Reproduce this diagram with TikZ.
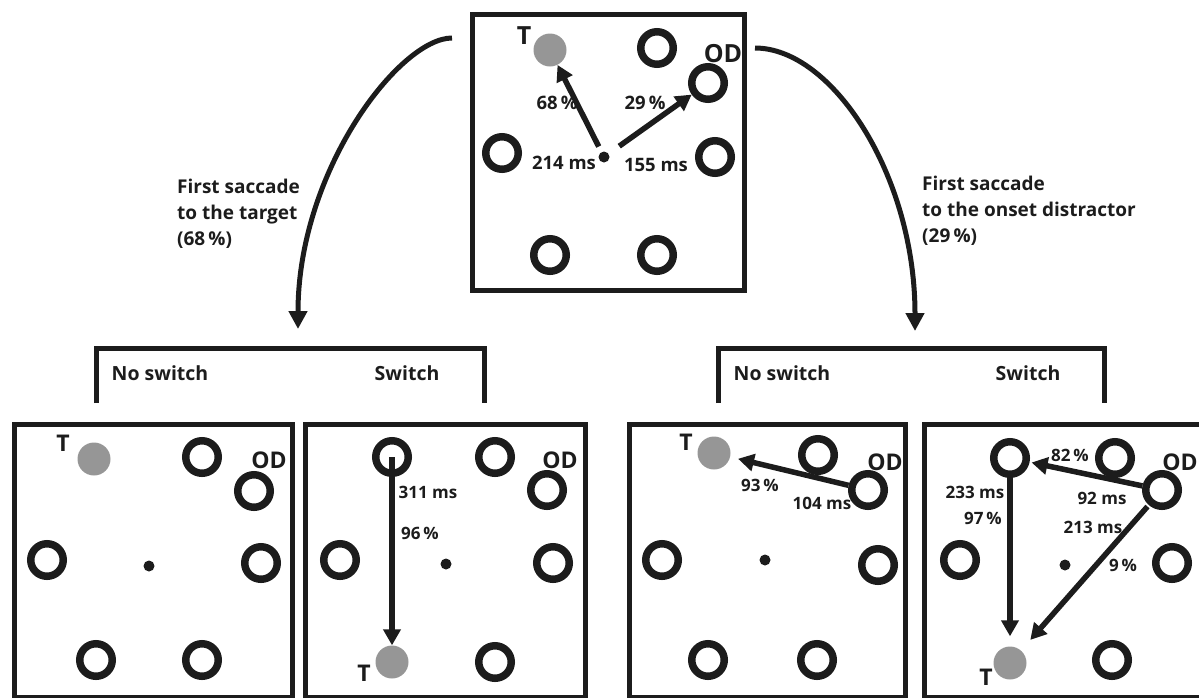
\documentclass[tikz,border=0pt]{standalone}
\usepackage{fontspec}
\setmainfont{Open Sans}
\usetikzlibrary{arrows.meta}
\definecolor{ink}{RGB}{28,28,28}
\definecolor{discgray}{RGB}{150,150,150}

\begin{document}
\begin{tikzpicture}[x=1pt,y=-1pt,
  panel/.style={draw=ink, line width=5pt, inner sep=0pt},
  ring/.style={circle, draw=ink, line width=7.5pt, minimum size=32.5pt, inner sep=0pt},
  target/.style={circle, fill=discgray, minimum size=33pt, inner sep=0pt},
  fixdot/.style={circle, fill=ink, minimum size=11pt, inner sep=0pt},
  sacc/.style={draw=ink, line width=5.5pt, -{Triangle[length=16pt,width=17pt]}},
  branch/.style={draw=ink, line width=5pt, -{Triangle[length=18pt,width=18pt]}},
  bracket/.style={draw=ink, line width=5pt, line join=miter},
  lab/.style={inner sep=0pt, text=ink, font=\bfseries\fontsize{17}{19}\selectfont},
  biglab/.style={inner sep=0pt, text=ink, font=\bfseries\fontsize{18.5}{20}\selectfont},
  tag/.style={inner sep=0pt, text=ink, font=\bfseries\fontsize{23}{26}\selectfont},
  bigtag/.style={inner sep=0pt, text=ink, font=\bfseries\fontsize{25}{28}\selectfont},
  head/.style={inner sep=0pt, text=ink, font=\bfseries\fontsize{19.5}{24}\selectfont},
  note/.style={inner sep=0pt, text=ink, align=left, font=\bfseries\fontsize{19}{26}\selectfont},
]
\useasboundingbox (0,0) rectangle (1199,697);

% ---------- initial display ----------
\node[panel, minimum width=272pt, minimum height=276pt] (top) at (608.5,152.5) {};
\node[target] (t-T) at (550,50) {};
\node[ring] (t-ur) at (657,48) {};
\node[ring] (t-od) at (708,83) {};
\node[ring] (t-l) at (502,153) {};
\node[ring] (t-r) at (715,157) {};
\node[fixdot] (t-fix) at (604,157) {};
\node[ring] (t-bl) at (550,255) {};
\node[ring] (t-br) at (657,255) {};
\node[bigtag] (t-Tlab) at (524,36) {T};
\node[bigtag] (t-odlab) at (723,54) {OD};
\draw[sacc, shorten <=6pt] (t-fix) -- (t-T);
\draw[sacc, shorten <=13pt] (t-fix) -- (t-od);
\node[biglab] (t-p1) at (557,103) {68\,\%};
\node[biglab] (t-p2) at (645,103) {29\,\%};
\node[biglab] (t-m1) at (564,163) {214 ms};
\node[biglab] (t-m2) at (656,165) {155 ms};

% ---------- branches ----------
\coordinate (lstart) at (452,38);
\coordinate (ltip) at (298,329);
\coordinate (rstart) at (755,48);
\coordinate (rtip) at (915,331);
\draw[branch] (lstart) .. controls (400,38) and (298,170) .. (ltip);
\draw[branch] (rstart) .. controls (832,48) and (915,175) .. (rtip);
\node[note, anchor=west] (lnote) at (177,214) {First saccade\\to the target\\(68\,\%)};
\node[note, anchor=west] (rnote) at (922,211) {First saccade\\to the onset distractor\\(29\,\%)};

\draw[bracket] (96,403) -- (96,348) -- (484,348) -- (484,403);
\draw[bracket] (718,403) -- (718,348) -- (1104,348) -- (1104,403);
\node[head] (h1) at (160,373) {No switch};
\node[head] (h2) at (407,373) {Switch};
\node[head] (h3) at (782,373) {No switch};
\node[head] (h4) at (1028,373) {Switch};

% ---------- target first, no switch ----------
\node[panel, minimum width=278pt, minimum height=273pt] (p1) at (153.5,561) {};
\node[target] (p1-T) at (94,459) {};
\node[ring] (p1-ur) at (202,457) {};
\node[ring] (p1-od) at (254,491) {};
\node[ring] (p1-l) at (47,560) {};
\node[ring] (p1-r) at (261,563) {};
\node[fixdot] (p1-fix) at (149,566) {};
\node[ring] (p1-bl) at (96,660) {};
\node[ring] (p1-br) at (202,660) {};
\node[tag] (p1-Tlab) at (63,443) {T};
\node[tag] (p1-odlab) at (269,460) {OD};

% ---------- target first, switch ----------
\node[panel, minimum width=280pt, minimum height=273pt] (p2) at (445.5,561) {};
\node[ring] (p2-ul) at (392,457) {};
\node[ring] (p2-ur) at (495,457) {};
\node[ring] (p2-od) at (547,490) {};
\node[ring] (p2-l) at (340,560) {};
\node[ring] (p2-r) at (553,563) {};
\node[fixdot] (p2-fix) at (446,564) {};
\node[target] (p2-T) at (392,662) {};
\node[ring] (p2-br) at (495,662) {};
\node[tag] (p2-Tlab) at (364,673) {T};
\node[tag] (p2-odlab) at (560,460) {OD};
\draw[sacc] (p2-ul.center) -- (p2-T);
\node[lab] (p2-m) at (428,492) {311 ms};
\node[lab] (p2-p) at (420,533) {96\,\%};

% ---------- distractor first, no switch ----------
\node[panel, minimum width=276pt, minimum height=273pt] (p3) at (767.5,561) {};
\node[target] (p3-T) at (714,453) {};
\node[ring] (p3-ur) at (818,455) {};
\node[ring] (p3-od) at (868,490) {};
\node[ring] (p3-l) at (662,560) {};
\node[ring] (p3-r) at (878,565) {};
\node[fixdot] (p3-fix) at (765,560) {};
\node[ring] (p3-bl) at (708,660) {};
\node[ring] (p3-br) at (817,660) {};
\node[tag] (p3-Tlab) at (686,442) {T};
\node[tag] (p3-odlab) at (885,462) {OD};
\draw[sacc, shorten >=8pt] (p3-od) -- (p3-T);
\node[lab] (p3-p) at (760,485) {93\,\%};
\node[lab] (p3-m) at (822,503) {104 ms};

% ---------- distractor first, switch ----------
\node[panel, minimum width=278pt, minimum height=273pt] (p4) at (1063.5,561) {};
\node[ring] (p4-ul) at (1010,458) {};
\node[ring] (p4-ur) at (1115,458) {};
\node[ring] (p4-od) at (1162,490) {};
\node[ring] (p4-l) at (960,560) {};
\node[ring] (p4-r) at (1172,563) {};
\node[fixdot] (p4-fix) at (1065,565) {};
\node[target] (p4-T) at (1010,663) {};
\node[ring] (p4-br) at (1112,660) {};
\node[tag] (p4-Tlab) at (986,677) {T};
\node[tag] (p4-odlab) at (1180,462) {OD};
\draw[sacc, shorten >=2pt] (p4-od) -- (p4-ul);
\draw[sacc, shorten >=10pt] (p4-ul) -- (p4-T);
\draw[sacc, shorten >=14pt, shorten <=2pt] (p4-od) -- (p4-T);
\node[lab] (p4-p1) at (1070,455) {82\,\%};
\node[lab] (p4-m1) at (1102,498) {92 ms};
\node[lab] (p4-m2) at (975,492) {233 ms};
\node[lab] (p4-p2) at (983,518) {97\,\%};
\node[lab] (p4-m3) at (1093,527) {213 ms};
\node[lab] (p4-p3) at (1123,565) {9\,\%};
\end{tikzpicture}
\end{document}
